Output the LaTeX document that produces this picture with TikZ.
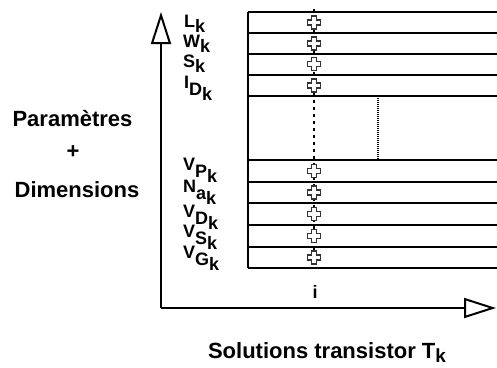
\documentclass[tikz,border=0pt]{standalone}
\usepackage{fontspec}
\setmainfont{Liberation Sans}
\usetikzlibrary{arrows.meta}
\definecolor{ink}{HTML}{000000}
\definecolor{crossline}{HTML}{333333}
\tikzset{
  axis/.style={
    draw=ink, line width=2pt,
    -{Triangle[open, length=32pt, width=20pt, line width=2pt]}
  },
  rowline/.style={draw=ink, line width=2pt},
  trace/.style={draw=ink, line width=2.4pt, dash pattern=on 2.5pt off 4.5pt},
  gaptrace/.style={draw=ink, line width=2pt, dash pattern=on 1pt off 1pt},
  solcross/.style={draw=crossline, fill=white, line width=1.4pt},
  param/.style={font=\fontsize{18}{18}\selectfont\bfseries, anchor=base west, inner sep=0pt},
  bigtitle/.style={font=\fontsize{22}{22}\selectfont\bfseries, anchor=base, inner sep=0pt}
}
\newcommand{\psub}[2]{#1\raisebox{-5pt}{#2}}
\newcommand{\pssub}[3]{#1\raisebox{-7pt}{#2\raisebox{-5pt}{#3}}}

\begin{document}
\begin{tikzpicture}[x=1pt, y=-1pt]
  \useasboundingbox (0,0) rectangle (497,367);

  % ---- Axes ----------------------------------------------------------------
  \coordinate (origin) at (161,308);
  \coordinate (ytip) at (161,12);
  \coordinate (xtip) at (496,308);
  \draw[axis] (origin) -- (ytip);
  \draw[axis] (origin) -- (xtip);

  % ---- Table of solutions --------------------------------------------------
  \coordinate (tabNW) at (248,12);
  \coordinate (tabSW) at (248,268);
  \draw[rowline] (tabNW) -- (tabSW);
  \foreach \y in {12, 33, 54, 75, 96, 160, 182, 203, 225, 247, 268} {
    \draw[rowline] (248,\y) -- (497,\y);
  }

  % ---- Solution i: dotted trace and crosses --------------------------------
  \coordinate (itop) at (314,9);
  \coordinate (ibot) at (314,268);
  \draw[trace] (itop) -- (ibot);
  \coordinate (gaptop) at (378,96);
  \coordinate (gapbot) at (378,160);
  \draw[gaptrace] (gaptop) -- (gapbot);
  \foreach \y in {22.5, 43.5, 64, 85.5, 171, 192.5, 214, 236, 257.5} {
    \filldraw[solcross] (314,\y) ++(-2.5,-6.5) -- ++(5,0) -- ++(0,4)
      -- ++(4,0) -- ++(0,5) -- ++(-4,0) -- ++(0,4) -- ++(-5,0)
      -- ++(0,-4) -- ++(-4,0) -- ++(0,-5) -- ++(4,0) -- cycle;
  }
  \node[bigtitle, font=\fontsize{18}{18}\selectfont\bfseries] (ilbl) at (315,298) {i};

  % ---- Parameter labels ----------------------------------------------------
  \node[param] (pL)  at (184,27)  {\psub{L}{k}};
  \node[param] (pW)  at (183,47)  {\psub{W}{k}};
  \node[param] (pS)  at (183,67)  {\psub{S}{k}};
  \node[param] (pID) at (184,88)  {\pssub{I}{D}{k}};
  \node[param] (pVP) at (183,170) {\pssub{V}{P}{k}};
  \node[param] (pNa) at (183,192) {\pssub{N}{a}{k}};
  \node[param] (pVD) at (183,217) {\pssub{V}{D}{k}};
  \node[param] (pVS) at (183,237) {\pssub{V}{S}{k}};
  \node[param] (pVG) at (183,258) {\pssub{V}{G}{k}};

  % ---- Axis titles ---------------------------------------------------------
  \node[bigtitle] (tPar)  at (72.5,126) {Paramètres};
  \node[bigtitle, anchor=center] (tPlus) at (73,152) {+};
  \node[bigtitle] (tDim)  at (77,197) {Dimensions};
  \node[bigtitle] (tSol)  at (327,358)
        {Solutions transistor T\raisebox{-4pt}{\fontsize{19}{19}\selectfont k}};

\end{tikzpicture}
\end{document}
